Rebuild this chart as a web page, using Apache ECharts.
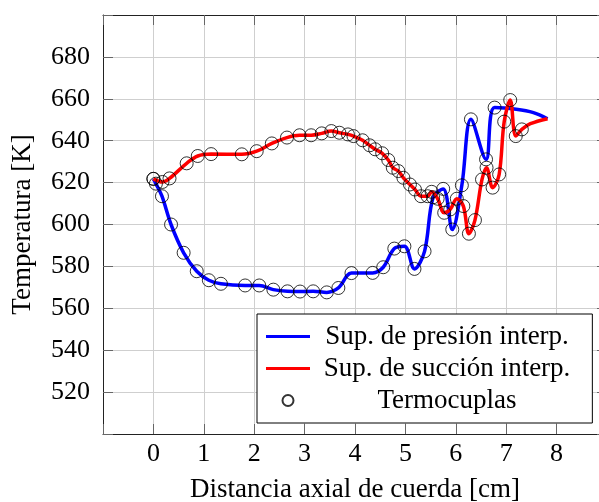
<!DOCTYPE html>
<html>
<head>
<meta charset="utf-8">
<script src="https://cdn.jsdelivr.net/npm/echarts@6/dist/echarts.min.js"></script>
<style>
html,body{margin:0;padding:0;background:#fff;}
#chart{width:599px;height:502px;}
</style>
</head>
<body>
<div id="chart"></div>
<script>
// Thermocouples on the pressure side (x in cm, T in K)
const pressureX = [0.0, 0.05, 0.17, 0.35, 0.60, 0.86, 1.10, 1.34, 1.82, 2.10, 2.38, 2.66, 2.91, 3.17, 3.44, 3.67, 3.93, 4.35, 4.56, 4.78, 4.98, 5.18, 5.38, 5.55, 5.75, 5.93, 6.12, 6.30, 6.60, 6.77];
const pressureY = [621.8, 619.5, 613.5, 600.0, 586.5, 577.7, 573.4, 571.7, 570.9, 570.9, 568.9, 568.1, 568.0, 568.1, 567.6, 569.7, 576.8, 576.9, 579.6, 588.5, 589.6, 578.8, 587.2, 613.0, 617.0, 597.6, 618.7, 650.2, 631.1, 655.8];
// Pressure-side interpolated curve beyond the last thermocouple
const pressureTailX = [7.20, 7.54, 7.82];
const pressureTailY = [655.0, 653.4, 650.5];

// Thermocouples on the suction side
const suctionX = [0.0, 0.18, 0.32, 0.66, 0.88, 1.145, 1.754, 2.05, 2.35, 2.65, 2.90, 3.13, 3.34, 3.53, 3.69, 3.86, 3.97, 4.15, 4.29, 4.40, 4.54, 4.66, 4.75, 4.86, 4.96, 5.09, 5.19, 5.31, 5.44, 5.52, 5.64, 5.77, 5.89, 6.02, 6.15, 6.26, 6.38, 6.52, 6.61, 6.73, 6.86, 6.96, 7.08, 7.19, 7.31];
const suctionY = [621.8, 620.3, 622.0, 629.2, 632.7, 633.6, 633.5, 635.0, 638.7, 641.5, 642.6, 642.6, 643.5, 644.6, 643.8, 643.0, 642.2, 640.2, 637.8, 635.9, 634.0, 630.8, 627.1, 625.5, 622.3, 619.1, 616.7, 613.5, 613.5, 615.6, 612.3, 605.6, 607.2, 612.3, 608.8, 595.6, 602.1, 621.5, 627.1, 617.6, 623.9, 649.1, 659.4, 642.2, 645.4];
const suctionTailX = [7.48, 7.82];
const suctionTailY = [648.1, 650.5];

const xTicks = [0, 1, 2, 3, 4, 5, 6, 7, 8];
const yTicks = [520, 540, 560, 580, 600, 620, 640, 660, 680];

const names = ['Sup. de presión interp.', 'Sup. de succión interp.', 'Termocuplas'];

const zip = (xs, ys) => xs.map((x, i) => [x, ys[i]]);
const pressureCurve = zip(pressureX.concat(pressureTailX), pressureY.concat(pressureTailY));
const suctionCurve = zip(suctionX.concat(suctionTailX), suctionY.concat(suctionTailY));
const thermo = zip(pressureX, pressureY).concat(zip(suctionX, suctionY));

const FONT = 'Liberation Serif';
const FS = 26;   // tick labels
const FT = 27;   // titles and legend

const chart = echarts.init(document.getElementById('chart'), null, {renderer: 'canvas'});
const xBase = {
  type: 'value', min: -1, max: 9, interval: 1,
  axisLine: {show: true, onZero: false, lineStyle: {color: '#222', width: 1}},
  axisTick: {show: true, inside: true, length: 10, lineStyle: {color: '#666', width: 1}},
};
const yBase = {
  type: 'value', min: 500, max: 700, interval: 20,
  axisLine: {show: true, onZero: false, lineStyle: {color: '#222', width: 1}},
  axisTick: {show: true, inside: true, length: 10, lineStyle: {color: '#666', width: 1}},
};
chart.setOption({
  animation: false,
  backgroundColor: '#fff',
  grid: {left: 103, top: 15, width: 504, height: 419, containLabel: false, outerBoundsMode: 'none'},
  xAxis: [
    Object.assign({}, xBase, {
      position: 'bottom',
      name: 'Distancia axial de cuerda [cm]', nameLocation: 'middle', nameGap: 42,
      nameTextStyle: {fontFamily: FONT, fontSize: FT, color: '#000'},
      axisLabel: {show: true, margin: 7, fontFamily: FONT, fontSize: FS, color: '#000',
        formatter: v => xTicks.indexOf(v) >= 0 ? String(v) : ''},
      splitLine: {show: true, lineStyle: {color: '#cfcfcf', width: 1}}
    }),
    Object.assign({}, xBase, {
      position: 'top', axisLabel: {show: false}, splitLine: {show: false}
    })
  ],
  yAxis: [
    Object.assign({}, yBase, {
      position: 'left',
      name: 'Temperatura [K]', nameLocation: 'middle', nameGap: 67, nameRotate: 90,
      nameTextStyle: {fontFamily: FONT, fontSize: FT, color: '#000'},
      axisLabel: {show: true, margin: 13, fontFamily: FONT, fontSize: FS, color: '#000',
        formatter: v => yTicks.indexOf(v) >= 0 ? String(v) : ''},
      splitLine: {show: true, lineStyle: {color: '#cfcfcf', width: 1}}
    }),
    Object.assign({}, yBase, {
      position: 'right', axisLabel: {show: false}, splitLine: {show: false}
    })
  ],
  legend: {
    orient: 'vertical', left: 257, top: 314,
    backgroundColor: '#fff', borderColor: '#000', borderWidth: 1, borderRadius: 0,
    padding: [9, 22, 9, 9],
    itemWidth: 44, itemHeight: 11, itemGap: 5,
    selectedMode: false,
    textStyle: {fontFamily: FONT, fontSize: FT, color: '#000',
      rich: {a: {fontFamily: FONT, fontSize: FT, color: '#000', width: 264, align: 'center'}}},
    formatter: n => '{a|' + n + '}',
    data: [
      {name: names[0], icon: 'path://M0,0H44V3H0Z'},
      {name: names[1], icon: 'path://M0,0H44V3H0Z'},
      {name: names[2]}
    ]
  },
  series: [
    {
      name: names[0], type: 'line', data: pressureCurve, smooth: 0.35,
      symbol: 'none', lineStyle: {color: '#0000ff', width: 3.5}, itemStyle: {color: '#0000ff'}, z: 2
    },
    {
      name: names[1], type: 'line', data: suctionCurve, smooth: 0.35,
      symbol: 'none', lineStyle: {color: '#ff0000', width: 3.5}, itemStyle: {color: '#ff0000'}, z: 3
    },
    {
      name: names[2], type: 'scatter', data: thermo, symbol: 'circle', symbolSize: 13,
      itemStyle: {color: 'rgba(0,0,0,0)', borderColor: '#000', borderWidth: 1}, z: 4
    }
  ]
});
</script>
</body>
</html>
